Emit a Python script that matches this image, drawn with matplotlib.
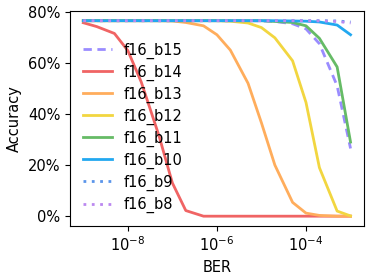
import numpy as np
import matplotlib
matplotlib.use("Agg")
from matplotlib import pyplot as plt
from matplotlib.ticker import PercentFormatter, NullLocator

ber = [1e-9, 2e-9, 5e-9, 1e-8, 2e-8, 5e-8, 1e-7, 2e-7, 5e-7, 1e-6,
       2e-6, 5e-6, 1e-5, 2e-5, 5e-5, 1e-4, 2e-4, 5e-4, 1e-3]

f16_b15 = [76.5, 76.5, 76.5, 76.5, 76.5, 76.5, 76.5, 76.5, 76.5, 76.5,
           76.5, 76.5, 76.4, 76.2, 75.3, 73.3, 67.5, 51.0, 26.5]
f16_b14 = [75.7, 74.2, 71.5, 64.8, 52.5, 31.5, 13.0, 2.2, 0.0, 0.0,
           0.0, 0.0, 0.0, 0.0, 0.0, 0.0, 0.0, 0.0, 0.0]
f16_b13 = [76.5, 76.5, 76.5, 76.5, 76.5, 76.5, 76.4, 75.8, 74.5, 71.0,
           65.0, 52.0, 36.5, 20.0, 5.4, 1.2, 0.3, 0.0, 0.0]
f16_b12 = [76.5, 76.5, 76.5, 76.5, 76.5, 76.5, 76.5, 76.5, 76.5, 76.5,
           76.3, 75.6, 73.8, 69.8, 60.8, 44.5, 19.0, 2.0, 0.1]
f16_b11 = [76.5, 76.5, 76.5, 76.5, 76.5, 76.5, 76.5, 76.5, 76.5, 76.5,
           76.5, 76.5, 76.5, 76.2, 75.8, 74.5, 69.6, 58.4, 29.0]
f16_b10 = [76.5, 76.5, 76.5, 76.5, 76.5, 76.5, 76.5, 76.5, 76.5, 76.5,
           76.5, 76.5, 76.5, 76.5, 76.4, 76.3, 76.0, 74.8, 71.0]
f16_b9 = [76.5, 76.5, 76.5, 76.5, 76.5, 76.5, 76.5, 76.5, 76.5, 76.5,
          76.5, 76.5, 76.5, 76.5, 76.5, 76.5, 76.5, 76.4, 76.0]
f16_b8 = [76.5, 76.5, 76.5, 76.5, 76.5, 76.5, 76.5, 76.5, 76.5, 76.5,
          76.5, 76.5, 76.5, 76.5, 76.5, 76.5, 76.4, 76.2, 75.6]

series = [("f16_b15", f16_b15, "#9a8cff", (0, (3, 2))),
          ("f16_b14", f16_b14, "#f06464", "-"),
          ("f16_b13", f16_b13, "#ffad5c", "-"),
          ("f16_b12", f16_b12, "#f2d640", "-"),
          ("f16_b11", f16_b11, "#66bb66", "-"),
          ("f16_b10", f16_b10, "#22a8f0", "-"),
          ("f16_b9", f16_b9, "#5b95ea", (0, (1, 2))),
          ("f16_b8", f16_b8, "#bb88f0", (0, (1, 2)))]

plt.rcParams['font.size'] = 10.5
fig = plt.figure(figsize=(3.74, 2.8), dpi=100)
ax = fig.add_axes([0.187, 0.193, 0.786, 0.768])

for name, vals, col, ls in series:
    ax.plot(ber, np.array(vals) / 100, color=col, linestyle=ls, lw=2, label=name)

ax.set_xscale('log')
ax.set_xticks([1e-8, 1e-6, 1e-4])
ax.xaxis.set_minor_locator(NullLocator())
ax.set_yticks([0, 0.2, 0.4, 0.6, 0.8])
ax.yaxis.set_major_formatter(PercentFormatter(1, decimals=0))
ax.set_xlabel('BER')
ax.set_ylabel('Accuracy')
ax.legend(loc='lower left', frameon=False, labelspacing=0.4)

fig.savefig('out.png', dpi=100)
